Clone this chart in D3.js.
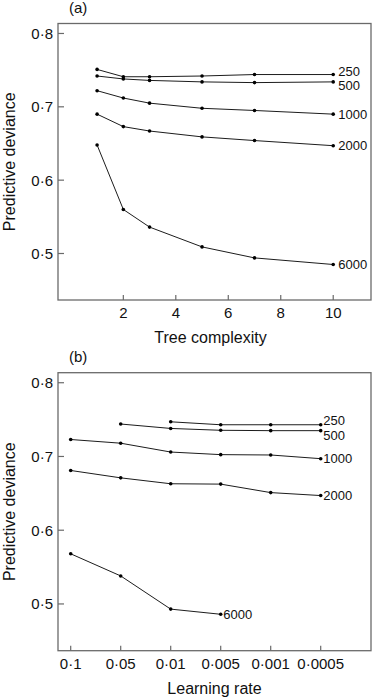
<!DOCTYPE html>
<html>
<head>
<meta charset="utf-8">
<script src="https://cdn.jsdelivr.net/npm/d3@7"></script>
<style>
  html, body { margin: 0; padding: 0; background: #fff; }
  svg { display: block; font-family: "Liberation Sans", Arial, Helvetica, sans-serif; }
</style>
</head>
<body>
<div id="chart"></div>
<script>
// ── Data ────────────────────────────────────────────────────────────────────
const treeComplexity = [1, 2, 3, 5, 7, 10];
const treeTicks      = [2, 4, 6, 8, 10];
const learningRates  = ['0·1', '0·05', '0·01', '0·005', '0·001', '0·0005'];
const yTicks         = [0.5, 0.6, 0.7, 0.8];
const seriesNames    = ['250', '500', '1000', '2000', '6000'];

// panel (a): predictive deviance by tree complexity
const devA250  = [0.751, 0.741, 0.741, 0.742, 0.744, 0.744];
const devA500  = [0.742, 0.738, 0.736, 0.734, 0.733, 0.734];
const devA1000 = [0.722, 0.712, 0.705, 0.698, 0.695, 0.690];
const devA2000 = [0.690, 0.673, 0.667, 0.659, 0.654, 0.647];
const devA6000 = [0.648, 0.560, 0.536, 0.509, 0.494, 0.485];

// panel (b): predictive deviance by learning rate (null = not fitted)
const devB250  = [null, null, 0.747, 0.743, 0.743, 0.743];
const devB500  = [null, 0.744, 0.738, 0.7355, 0.735, 0.735];
const devB1000 = [0.723, 0.718, 0.706, 0.7025, 0.702, 0.697];
const devB2000 = [0.681, 0.671, 0.663, 0.6625, 0.651, 0.647];
const devB6000 = [0.568, 0.538, 0.493, 0.486, null, null];

// ── Layout ──────────────────────────────────────────────────────────────────
const W = 374, H = 698;
const boxLeft = 58, boxRight = 371;
const panelA = { top: 23.5, bottom: 300 };
const panelB = { top: 372.7, bottom: 650.7 };
const frameColor = '#6a6a6a';
const lineColor  = '#1c1c1c';
const fmt = v => v.toFixed(1).replace('.', '·');

const svg = d3.select('#chart').append('svg')
  .attr('width', W).attr('height', H)
  .attr('viewBox', `0 0 ${W} ${H}`);

function drawPanel(p, x, xTickVals, xAccessor, rows, opts) {
  const y = d3.scaleLinear().domain([0.4366, 0.8136]).range([p.bottom, p.top]);
  const g = svg.append('g');

  // Frame
  g.append('rect')
    .attr('x', boxLeft).attr('y', p.top)
    .attr('width', boxRight - boxLeft).attr('height', p.bottom - p.top)
    .attr('fill', 'none').attr('stroke', frameColor).attr('stroke-width', 1.3);

  // Y ticks (inward) + labels
  yTicks.forEach(t => {
    g.append('line')
      .attr('x1', boxLeft).attr('x2', boxLeft + 6)
      .attr('y1', y(t)).attr('y2', y(t))
      .attr('stroke', frameColor).attr('stroke-width', 1.2);
    g.append('text')
      .attr('x', boxLeft - 5).attr('y', y(t)).attr('dy', '0.36em')
      .attr('text-anchor', 'end').attr('font-size', 15).attr('fill', '#111')
      .text(fmt(t));
  });

  // X ticks (inward) + labels
  xTickVals.forEach(t => {
    g.append('line')
      .attr('x1', x(t)).attr('x2', x(t))
      .attr('y1', p.bottom).attr('y2', p.bottom - 5)
      .attr('stroke', frameColor).attr('stroke-width', 1.2);
    g.append('text')
      .attr('x', x(t)).attr('y', p.bottom + 18)
      .attr('text-anchor', 'middle').attr('font-size', 15).attr('fill', '#111')
      .text(t);
  });

  // Axis titles
  g.append('text')
    .attr('x', (boxLeft + boxRight) / 2 + opts.titleShift).attr('y', p.bottom + 43)
    .attr('text-anchor', 'middle').attr('font-size', 16).attr('fill', '#111')
    .text(opts.xTitle);
  g.append('text')
    .attr('transform', `translate(15,${(p.top + p.bottom) / 2}) rotate(-90)`)
    .attr('text-anchor', 'middle').attr('font-size', 16).attr('fill', '#111')
    .text('Predictive deviance');

  // Panel tag
  g.append('text')
    .attr('x', 69).attr('y', p.top - 11)
    .attr('font-size', 15).attr('fill', '#111')
    .text(opts.tag);

  const line = d3.line()
    .defined(d => d.v != null)
    .x(d => x(d.x)).y(d => y(d.v));

  rows.forEach((vals, si) => {
    const pts = vals.map((v, i) => ({ x: xAccessor(i), v }));
    g.append('path')
      .datum(pts)
      .attr('fill', 'none').attr('stroke', lineColor).attr('stroke-width', 1)
      .attr('d', line);
    const valid = pts.filter(d => d.v != null);
    g.selectAll(null).data(valid).enter().append('circle')
      .attr('cx', d => x(d.x)).attr('cy', d => y(d.v))
      .attr('r', 1.8).attr('fill', '#000');
    const last = valid[valid.length - 1];
    g.append('text')
      .attr('x', x(last.x) + opts.labelDx)
      .attr('y', y(last.v) + opts.labelDy[si])
      .attr('dy', '0.36em')
      .attr('font-size', 13).attr('fill', '#111')
      .text(seriesNames[si]);
  });
}

// Panel (a)
const xA = d3.scaleLinear().domain([-0.49, 11.44]).range([boxLeft, boxRight]);
drawPanel(panelA, xA, treeTicks, i => treeComplexity[i],
  [devA250, devA500, devA1000, devA2000, devA6000],
  { tag: '(a)', xTitle: 'Tree complexity', titleShift: -4,
    labelDx: 5, labelDy: [-3.5, 3.5, 0, 0, 0] });

// Panel (b)
const xB = d3.scalePoint().domain(learningRates).range([70.7, 320.7]);
drawPanel(panelB, xB, learningRates, i => learningRates[i],
  [devB250, devB500, devB1000, devB2000, devB6000],
  { tag: '(b)', xTitle: 'Learning rate', titleShift: 0,
    labelDx: 2.5, labelDy: [-4.2, 4.2, 0, 0, 0] });
</script>
</body>
</html>
